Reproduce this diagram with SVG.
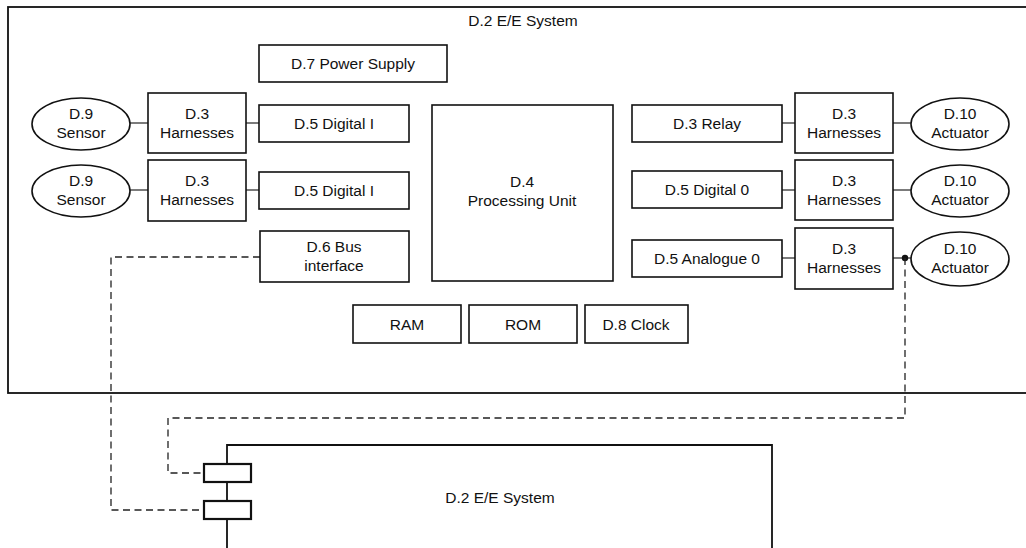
<svg xmlns="http://www.w3.org/2000/svg" width="1026" height="548" viewBox="0 0 1026 548">
<style>
  .box { fill: #fff; stroke: #111; stroke-width: 1.6; }
  .frame { fill: none; stroke: #111; stroke-width: 1.8; }
  .port { fill: #fff; stroke: #111; stroke-width: 2.2; }
  .ln { fill: none; stroke: #333; stroke-width: 1.3; }
  .dash { fill: none; stroke: #222; stroke-width: 1.3; stroke-dasharray: 7 4.5; }
  text { font-family: "Liberation Sans", Arial, sans-serif; font-size: 15.5px; fill: #111; text-anchor: middle; }
</style>
<rect x="0" y="0" width="1026" height="548" fill="#fff"/>

<g id="system-top">
  <rect class="frame" x="8" y="7" width="1030" height="386"/>
  <text x="523" y="26">D.2 E/E System</text>
</g>

<g id="connectors">
  <line class="ln" x1="130" y1="123" x2="148" y2="123"/>
  <line class="ln" x1="246" y1="123" x2="259" y2="123"/>
  <line class="ln" x1="130" y1="190" x2="148" y2="190"/>
  <line class="ln" x1="246" y1="190" x2="259" y2="190"/>
  <line class="ln" x1="782" y1="123" x2="795" y2="123"/>
  <line class="ln" x1="893" y1="123" x2="911" y2="123"/>
  <line class="ln" x1="782" y1="190" x2="795" y2="190"/>
  <line class="ln" x1="893" y1="190" x2="911" y2="190"/>
  <line class="ln" x1="782" y1="258" x2="795" y2="258"/>
  <line class="ln" x1="893" y1="258" x2="911" y2="258"/>
  <circle cx="905" cy="258" r="3.2" fill="#111"/>
  <polyline class="dash" points="260,257 111,257 111,510 204,510"/>
  <polyline class="dash" points="905,258 905,418 168,418 168,473 204,473"/>
</g>

<g id="power-supply">
  <rect class="box" x="259" y="45" width="188" height="37"/>
  <text x="353" y="69">D.7 Power Supply</text>
</g>

<g id="sensor-1">
  <ellipse class="box" cx="81" cy="124" rx="49" ry="26"/>
  <text x="81" y="119">D.9</text>
  <text x="81" y="138">Sensor</text>
</g>
<g id="harness-l1">
  <rect class="box" x="148" y="93" width="98" height="60"/>
  <text x="197" y="119">D.3</text>
  <text x="197" y="138">Harnesses</text>
</g>
<g id="digital-i-1">
  <rect class="box" x="259" y="105" width="150" height="37"/>
  <text x="334" y="129">D.5 Digital I</text>
</g>

<g id="sensor-2">
  <ellipse class="box" cx="81" cy="191" rx="49" ry="26"/>
  <text x="81" y="186">D.9</text>
  <text x="81" y="205">Sensor</text>
</g>
<g id="harness-l2">
  <rect class="box" x="148" y="160" width="98" height="61"/>
  <text x="197" y="186">D.3</text>
  <text x="197" y="205">Harnesses</text>
</g>
<g id="digital-i-2">
  <rect class="box" x="259" y="172" width="150" height="37"/>
  <text x="334" y="196">D.5 Digital I</text>
</g>

<g id="bus-interface">
  <rect class="box" x="260" y="231" width="149" height="51"/>
  <text x="334" y="252">D.6 Bus</text>
  <text x="334" y="271">interface</text>
</g>

<g id="processing-unit">
  <rect class="box" x="432" y="105" width="181" height="176"/>
  <text x="522" y="187">D.4</text>
  <text x="522" y="206">Processing Unit</text>
</g>

<g id="relay">
  <rect class="box" x="632" y="105" width="150" height="37"/>
  <text x="707" y="129">D.3 Relay</text>
</g>
<g id="harness-r1">
  <rect class="box" x="795" y="93" width="98" height="60"/>
  <text x="844" y="119">D.3</text>
  <text x="844" y="138">Harnesses</text>
</g>
<g id="actuator-1">
  <ellipse class="box" cx="960" cy="124" rx="49" ry="26"/>
  <text x="960" y="119">D.10</text>
  <text x="960" y="138">Actuator</text>
</g>

<g id="digital-o">
  <rect class="box" x="632" y="171" width="150" height="37"/>
  <text x="707" y="195">D.5 Digital 0</text>
</g>
<g id="harness-r2">
  <rect class="box" x="795" y="160" width="98" height="60"/>
  <text x="844" y="186">D.3</text>
  <text x="844" y="205">Harnesses</text>
</g>
<g id="actuator-2">
  <ellipse class="box" cx="960" cy="191" rx="49" ry="26"/>
  <text x="960" y="186">D.10</text>
  <text x="960" y="205">Actuator</text>
</g>

<g id="analogue-o">
  <rect class="box" x="632" y="240" width="150" height="37"/>
  <text x="707" y="264">D.5 Analogue 0</text>
</g>
<g id="harness-r3">
  <rect class="box" x="795" y="228" width="98" height="61"/>
  <text x="844" y="254">D.3</text>
  <text x="844" y="273">Harnesses</text>
</g>
<g id="actuator-3">
  <ellipse class="box" cx="960" cy="259" rx="49" ry="27"/>
  <text x="960" y="254">D.10</text>
  <text x="960" y="273">Actuator</text>
</g>

<g id="ram">
  <rect class="box" x="353" y="305" width="108" height="38"/>
  <text x="407" y="330">RAM</text>
</g>
<g id="rom">
  <rect class="box" x="469" y="305" width="108" height="38"/>
  <text x="523" y="330">ROM</text>
</g>
<g id="clock">
  <rect class="box" x="585" y="305" width="103" height="38"/>
  <text x="636" y="330">D.8 Clock</text>
</g>

<g id="system-bottom">
  <polyline class="frame" points="227,552 227,445 772,445 772,552"/>
  <text x="500" y="503">D.2 E/E System</text>
</g>
<g id="port-1">
  <rect class="port" x="204" y="464" width="47" height="18"/>
</g>
<g id="port-2">
  <rect class="port" x="204" y="501" width="47" height="18"/>
</g>
</svg>
